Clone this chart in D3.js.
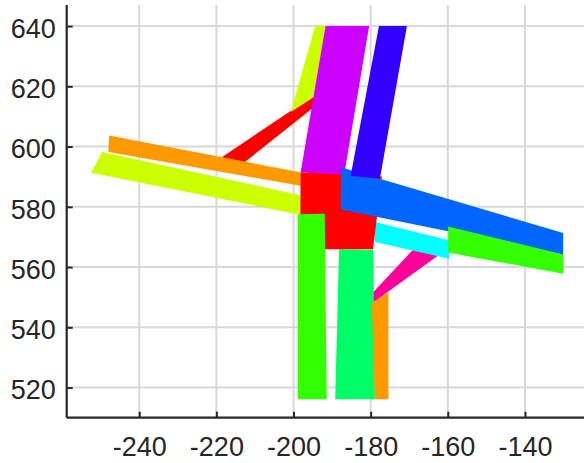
<!DOCTYPE html>
<html>
<head>
<meta charset="utf-8">
<script src="https://cdn.jsdelivr.net/npm/d3@7"></script>
<style>
  body { margin: 0; background: #fff; }
  svg { display: block; font-family: "Liberation Sans", Arial, sans-serif; }
</style>
</head>
<body>
<div id="chart"></div>
<script>
// tick values
const xTicks = [-240, -220, -200, -180, -160, -140];
const yTicks = [520, 540, 560, 580, 600, 620, 640];

// patch outlines, in data units, listed in drawing order
const redLink     = [[-218.6, 596.5], [-194.0, 617.6], [-194.0, 613.8], [-213.1, 594.4]];
const magentaLink = [[-169.0, 565.8], [-162.6, 563.8], [-179.7, 547.9], [-179.3, 551.7]];
const yellowUpper = [[-194.4, 640], [-191.7, 640], [-193.8, 617.2], [-200.7, 611.5]];
const orangeLeft  = [[-247.8, 603.7], [-197.6, 591.3], [-197.8, 586.9], [-248.0, 598.2]];
const yellowLeft  = [[-249.6, 598.2], [-198.0, 583.8], [-198.3, 577.4], [-252.5, 591.3]];
const springGreen = [[-188.2, 565.9], [-179.3, 565.7], [-178.9, 516.1], [-189.2, 516.1]];
const orangeDown  = [[-179.7, 547.9], [-175.4, 551.7], [-175.4, 516.1], [-178.9, 516.1]];
const cyanRight   = [[-178.9, 575.0], [-159.7, 568.9], [-159.7, 562.8], [-178.9, 568.3]];
const purpleUp    = [[-191.7, 640], [-180.4, 640], [-186.9, 590.4], [-198.15, 591.5]];
const redCenter   = [[-198.15, 591.5], [-177.1, 590.1], [-179.4, 565.9], [-198.3, 565.9]];
const greenLeft   = [[-198.9, 577.5], [-191.9, 577.7], [-191.4, 516.1], [-198.9, 516.1]];
const blueRight   = [[-187.7, 593.1], [-130.1, 571.3], [-130.1, 564.2], [-187.8, 579.1]];
const greenRight  = [[-159.9, 573.5], [-130.1, 564.2], [-130.1, 557.8], [-159.9, 564.8]];
const indigoUp    = [[-177.85, 640], [-170.6, 640], [-177.6, 589.4], [-185.2, 590.2]];

const patches = [
  { pts: redLink,     color: "#ff0000" },
  { pts: magentaLink, color: "#ff0099" },
  { pts: yellowUpper, color: "#ccff00" },
  { pts: orangeLeft,  color: "#ff9900" },
  { pts: yellowLeft,  color: "#ccff00" },
  { pts: springGreen, color: "#00ff66" },
  { pts: orangeDown,  color: "#ff9900" },
  { pts: cyanRight,   color: "#00ffff" },
  { pts: purpleUp,    color: "#cc00ff" },
  { pts: redCenter,   color: "#ff0000" },
  { pts: greenLeft,   color: "#33ff00" },
  { pts: blueRight,   color: "#0066ff" },
  { pts: greenRight,  color: "#33ff00" },
  { pts: indigoUp,    color: "#3300ff" }
];

const width = 584, height = 463;
const plotLeft = 66.7, plotBottom = 417.7, plotTop = 5;

const svg = d3.select("#chart").append("svg")
  .attr("width", width)
  .attr("height", height);

const x = d3.scaleLinear().domain([-258.8, -124.7]).range([plotLeft, width]);
const y = d3.scaleLinear().domain([510, 647]).range([plotBottom, plotTop]);

// grid
svg.append("g").selectAll("line").data(xTicks).join("line")
  .attr("x1", d => x(d)).attr("x2", d => x(d))
  .attr("y1", plotTop).attr("y2", plotBottom)
  .attr("stroke", "#d8d8d8").attr("stroke-width", 2);
svg.append("g").selectAll("line").data(yTicks).join("line")
  .attr("x1", plotLeft).attr("x2", width)
  .attr("y1", d => y(d)).attr("y2", d => y(d))
  .attr("stroke", "#d8d8d8").attr("stroke-width", 2);

// patches
const line = d3.line().x(d => x(d[0])).y(d => y(d[1])).curve(d3.curveLinearClosed);
svg.append("g").selectAll("path").data(patches).join("path")
  .attr("d", d => line(d.pts))
  .attr("fill", d => d.color);

// axes
const xAxis = svg.append("g")
  .attr("transform", `translate(0,${plotBottom})`)
  .call(d3.axisBottom(x).tickValues(xTicks).tickSize(-6).tickPadding(19.5));
const yAxis = svg.append("g")
  .attr("transform", `translate(${plotLeft},0)`)
  .call(d3.axisLeft(y).tickValues(yTicks).tickSize(-6).tickPadding(11));

[xAxis, yAxis].forEach(g => {
  g.select(".domain").attr("stroke", "#262626").attr("stroke-width", 2.2);
  g.selectAll(".tick line").attr("stroke", "#262626").attr("stroke-width", 2);
  g.selectAll(".tick text")
    .attr("fill", "#262626")
    .style("font-size", "27px")
    .style("font-family", "'Liberation Sans', Arial, sans-serif")
    .text(d => String(d));
});
yAxis.selectAll(".tick text").attr("dy", "0.42em");
// plain axis lines without end caps
xAxis.select(".domain").attr("d", `M${plotLeft},0H${width}`);
yAxis.select(".domain").attr("d", `M0,${plotTop}V${plotBottom}`);
</script>
</body>
</html>
